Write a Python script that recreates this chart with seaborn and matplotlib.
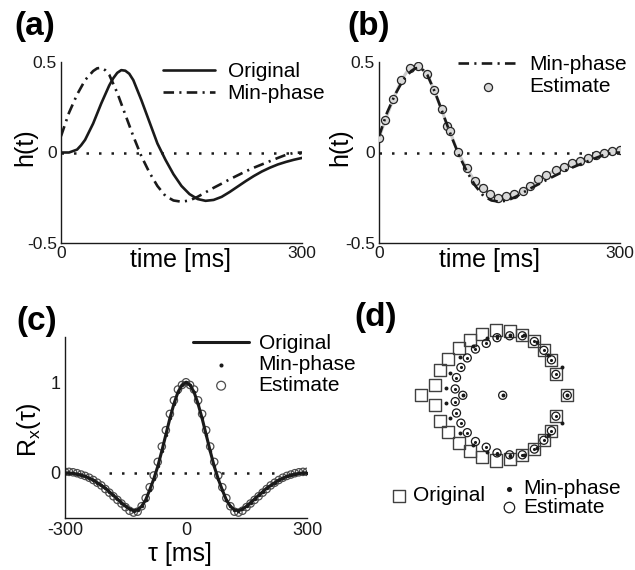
import numpy as np
import pandas as pd
import matplotlib
matplotlib.use("Agg")
import matplotlib.pyplot as plt
import seaborn as sns

# --- data ---
# (a) impulse responses h(t), t in ms
t_orig = [0, 10, 20, 25, 30, 40, 50, 60, 65, 70, 75, 80, 85, 90, 100, 110, 120, 130, 140, 150,
          160, 170, 180, 190, 200, 210, 220, 230, 240, 250, 260, 270, 280, 290, 300]
h_orig = [0, 0, 0.016, 0.04, 0.07, 0.16, 0.27, 0.37, 0.41, 0.44, 0.455, 0.452, 0.435, 0.40, 0.29,
          0.17, 0.05, -0.04, -0.12, -0.185, -0.23, -0.257, -0.267, -0.262, -0.245, -0.218, -0.188,
          -0.158, -0.13, -0.105, -0.084, -0.066, -0.052, -0.04, -0.03]

t_min = [0, 10, 20, 30, 40, 45, 50, 55, 60, 70, 80, 90, 100, 110, 120, 130, 140, 150, 160, 170,
         180, 190, 200, 210, 220, 230, 240, 250, 260, 270, 280, 290, 300]
h_min = [0.09, 0.22, 0.32, 0.40, 0.45, 0.465, 0.468, 0.455, 0.43, 0.33, 0.21, 0.09, -0.02, -0.11,
         -0.185, -0.24, -0.265, -0.272, -0.265, -0.245, -0.22, -0.195, -0.172, -0.148, -0.126,
         -0.104, -0.084, -0.066, -0.048, -0.03, -0.013, -0.002, 0]

# (b) estimated impulse response
t_est = [0, 8, 18, 28, 38, 49, 60, 68, 78, 85, 88, 98, 109, 119, 130, 138, 148, 158, 168, 179,
         188, 198, 208, 220, 230, 240, 250, 260, 270, 280, 290, 300]
h_est = [0.081, 0.182, 0.297, 0.40, 0.468, 0.477, 0.436, 0.348, 0.238, 0.145, 0.12, 0.002, -0.085,
         -0.158, -0.195, -0.232, -0.25, -0.241, -0.232, -0.214, -0.186, -0.149, -0.127, -0.095,
         -0.08, -0.06, -0.045, -0.03, -0.015, 0.0, 0.008, 0.015]

# (c) autocorrelation, one side (lag 0..300 ms), symmetric
lag_half = [0, 10, 20, 30, 40, 50, 60, 70, 80, 90, 100, 110, 120, 130, 140, 150, 160, 170, 180,
            190, 200, 210, 220, 230, 240, 250, 260, 270, 280, 290, 300]
rx_orig_half = [1.0, 0.97, 0.89, 0.76, 0.60, 0.42, 0.24, 0.07, -0.07, -0.19, -0.30, -0.37, -0.41,
                -0.42, -0.40, -0.37, -0.33, -0.29, -0.25, -0.21, -0.17, -0.14, -0.11, -0.08,
                -0.06, -0.04, -0.025, -0.015, -0.007, -0.002, 0.0]
rx_min_half = [1.0, 0.97, 0.89, 0.76, 0.60, 0.42, 0.24, 0.07, -0.07, -0.19, -0.30, -0.37, -0.41,
               -0.42, -0.40, -0.37, -0.33, -0.29, -0.25, -0.21, -0.17, -0.14, -0.11, -0.08,
               -0.06, -0.04, -0.025, -0.015, -0.007, -0.002, 0.0]
rx_est_half = [1.0, 0.97, 0.92, 0.80, 0.65, 0.47, 0.29, 0.12, -0.03, -0.16, -0.28, -0.37, -0.43,
               -0.44, -0.42, -0.38, -0.34, -0.30, -0.26, -0.22, -0.18, -0.14, -0.11, -0.08,
               -0.055, -0.035, -0.02, -0.005, 0.005, 0.01, 0.01]

# (d) zeros in the z-plane (upper half plane + real axis; conjugates mirrored)
orig_re = [1.02, 0.84, 0.77, 0.65, 0.50, 0.31, 0.11, -0.11, -0.32, -0.52, -0.69, -0.86, -0.99, -1.07, -1.29]
orig_im = [0, 0.33, 0.56, 0.71, 0.85, 0.95, 1.01, 1.03, 0.97, 0.88, 0.75, 0.58, 0.40, 0.16, 0]
min_re = [1.02, 0.93, 0.72, 0.54, 0.33, 0.11, -0.09, -0.25, -0.47, -0.68, -0.83, -0.89, -0.63, 0.0]
min_im = [0.0, 0.44, 0.63, 0.84, 0.95, 0.96, 0.93, 0.90, 0.78, 0.60, 0.36, 0.12, 0.0, 0.0]
est_re = [1.02, 0.84, 0.77, 0.65, 0.50, 0.31, 0.11, -0.09, -0.26, -0.43, -0.56, -0.66, -0.73, -0.75, -0.63, 0.0]
est_im = [0, 0.33, 0.56, 0.71, 0.85, 0.94, 0.94, 0.91, 0.82, 0.73, 0.59, 0.44, 0.28, 0.10, 0, 0]


def full_lag(half):
    return list(-np.array(half[:0:-1])) + list(half)


def full_sym(half):
    return list(half[:0:-1]) + list(half)


def mirror(re, im):
    re = np.array(re)
    im = np.array(im)
    cpx = im != 0
    return (np.concatenate([re, re[cpx]]), np.concatenate([im, -im[cpx]]))


lag = full_lag(lag_half)
df_c = pd.DataFrame({"lag": lag, "orig": full_sym(rx_orig_half),
                     "minp": full_sym(rx_min_half), "est": full_sym(rx_est_half)})

sns.set_theme(style="white")
plt.rcParams["font.family"] = ["Liberation Sans", "DejaVu Sans"]
plt.rcParams["axes.unicode_minus"] = False
plt.rcParams["mathtext.fontset"] = "custom"
plt.rcParams["mathtext.rm"] = "Liberation Sans"
for k in ["text.color", "axes.labelcolor", "xtick.color", "ytick.color", "axes.edgecolor"]:
    plt.rcParams[k] = "black"

W, H = 635, 570
fig = plt.figure(figsize=(W / 100, H / 100), dpi=100)


def box(l, t, r, b):
    return [l / W, 1 - b / H, (r - l) / W, (b - t) / H]


ax_a = fig.add_axes(box(61, 62, 302, 243))
ax_b = fig.add_axes(box(379, 62, 620, 243))
ax_c = fig.add_axes(box(65, 337, 307, 518))
ax_d = fig.add_axes(box(401.4, 294, 604, 496.6))

dashdot = (0, (4, 2, 0.8, 2))
zero_ls = (0, (1, 4))
LEG = 15
TICK = 12.5
LAB = 18


def style_axes(ax):
    for s in ["top", "right"]:
        ax.spines[s].set_visible(False)
    for s in ["left", "bottom"]:
        ax.spines[s].set_color("k")
        ax.spines[s].set_linewidth(1.0)
    ax.tick_params(which="both", direction="in", length=4, width=1, colors="k",
                   labelsize=TICK, pad=3)
    ax.grid(False)


# ---------------- (a) ----------------
ax = ax_a
ax.axhline(0, color="k", lw=1.8, ls=zero_ls, zorder=1)
sns.lineplot(x=t_orig, y=h_orig, ax=ax, color="k", lw=1.9, label="Original",
             estimator=None, sort=False, zorder=3)
sns.lineplot(x=t_min, y=h_min, ax=ax, color="k", lw=1.9, linestyle=dashdot,
             label="Min-phase", estimator=None, sort=False, zorder=3)
ax.set_xlim(0, 300)
ax.set_ylim(-0.5, 0.5)
ax.set_xticks([0, 300])
ax.set_yticks([-0.5, 0, 0.5])
ax.set_yticklabels(["-0.5", "0", "0.5"])
ax.set_yticks([-0.25, 0.25], minor=True)
style_axes(ax)
ax.tick_params(axis="x", pad=2)
ax.set_xlabel("time [ms]", fontsize=LAB)
ax.set_ylabel("h(t)", fontsize=LAB)
ax.xaxis.set_label_coords(0.494, -0.025)
ax.yaxis.set_label_coords(-0.1, 0.53)
ax.legend(loc="upper left", bbox_to_anchor=(163 / W, 1 - 62 / H), bbox_transform=fig.transFigure,
          frameon=False, fontsize=LEG, handlelength=2.5, handletextpad=0.6,
          labelspacing=0.15, borderpad=0, borderaxespad=0)

# ---------------- (b) ----------------
ax = ax_b
ax.axhline(0, color="k", lw=1.8, ls=zero_ls, zorder=1)
sns.lineplot(x=t_est, y=h_est, ax=ax, color="0.8", lw=2.2, estimator=None, sort=False, zorder=2)
sns.scatterplot(x=t_est, y=h_est, ax=ax, s=34, marker="o", facecolor="0.85",
                edgecolor="0.15", linewidth=0.9, label="Estimate", zorder=3)
sns.lineplot(x=t_min, y=h_min, ax=ax, color="k", lw=1.9, linestyle=dashdot,
             label="Min-phase", estimator=None, sort=False, zorder=4)
ax.set_xlim(0, 300)
ax.set_ylim(-0.5, 0.5)
ax.set_xticks([0, 300])
ax.set_yticks([-0.5, 0, 0.5])
ax.set_yticklabels(["-0.5", "0", "0.5"])
ax.set_yticks([-0.25, 0.25], minor=True)
style_axes(ax)
ax.tick_params(axis="x", pad=2)
ax.set_xlabel("time [ms]", fontsize=LAB)
ax.set_ylabel("h(t)", fontsize=LAB)
ax.xaxis.set_label_coords(0.46, -0.025)
ax.yaxis.set_label_coords(-0.11, 0.53)
hb, lb = ax.get_legend_handles_labels()
order = [lb.index("Min-phase"), lb.index("Estimate")]
ax.legend([hb[i] for i in order], [lb[i] for i in order], loc="upper left",
          bbox_to_anchor=(458 / W, 1 - 55 / H), bbox_transform=fig.transFigure,
          frameon=False, fontsize=LEG, handlelength=2.9, handletextpad=0.5,
          labelspacing=0.15, borderpad=0, borderaxespad=0)

# ---------------- (c) ----------------
ax = ax_c
ax.hlines(0, -190, 220, colors="k", lw=1.8, linestyles=zero_ls, zorder=1)
sns.scatterplot(data=df_c, x="lag", y="est", ax=ax, s=28, marker="o", facecolor="none",
                edgecolor="0.3", linewidth=0.9, label="Estimate", zorder=2)
sns.lineplot(data=df_c, x="lag", y="orig", ax=ax, color="k", lw=2.2, label="Original",
             estimator=None, sort=False, zorder=3)
sns.scatterplot(data=df_c, x="lag", y="minp", ax=ax, s=6, marker="o", color="k",
                linewidth=0, label="Min-phase", zorder=4)
ax.set_xlim(-300, 300)
ax.set_ylim(-0.5, 1.5)
ax.set_xticks([-300, 0, 300])
ax.set_yticks([0, 1])
ax.set_yticks([-0.5, 0.5, 1.5], minor=True)
style_axes(ax)
ax.tick_params(axis="x", labelsize=13, pad=3)
ax.tick_params(axis="y", labelsize=13)
ax.set_xlabel("τ [ms]", fontsize=LAB)
ax.set_ylabel("R$_\\mathregular{x}$(τ)", fontsize=LAB)
ax.xaxis.set_label_coords(0.475, -0.135)
ax.yaxis.set_label_coords(-0.09, 0.49)
hc, lc = ax.get_legend_handles_labels()
order = [lc.index("Original"), lc.index("Min-phase"), lc.index("Estimate")]
ax.legend([hc[i] for i in order], [lc[i] for i in order], loc="upper left",
          bbox_to_anchor=(193 / W, 1 - 334 / H), bbox_transform=fig.transFigure,
          frameon=False, fontsize=LEG, handlelength=2.7, handletextpad=0.45,
          labelspacing=0.1, borderpad=0, borderaxespad=0, markerscale=1.2)

# ---------------- (d) ----------------
ax = ax_d
ore, oim = mirror(orig_re, orig_im)
mre, mim = mirror(min_re, min_im)
ere, eim = mirror(est_re, est_im)
sns.scatterplot(x=ore, y=oim, ax=ax, s=75, marker="s", facecolor="none",
                edgecolor="0.25", linewidth=1.0, label="Original", zorder=2)
sns.scatterplot(x=ere, y=eim, ax=ax, s=34, marker="o", facecolor="none",
                edgecolor="k", linewidth=0.9, label="Estimate", zorder=3)
sns.scatterplot(x=ere, y=eim, ax=ax, s=5, marker="o", color="k", linewidth=0, zorder=4)
sns.scatterplot(x=mre, y=mim, ax=ax, s=8, marker="o", color="k", linewidth=0,
                label="Min-phase", zorder=4)
ax.set_xlim(-1.6, 1.6)
ax.set_ylim(-1.6, 1.6)
ax.set_aspect("equal")
ax.axis("off")
hd, ld = ax.get_legend_handles_labels()
leg1 = ax.legend([hd[ld.index("Original")]], ["Original"], loc="upper left",
                 bbox_to_anchor=(389 / W, 1 - 486 / H), bbox_transform=fig.transFigure,
                 frameon=False, fontsize=LEG, handlelength=1.0, handletextpad=0.15,
                 borderpad=0, borderaxespad=0)
ax.add_artist(leg1)
ax.legend([hd[ld.index("Min-phase")], hd[ld.index("Estimate")]], ["Min-phase", "Estimate"],
          loc="upper left", bbox_to_anchor=(499 / W, 1 - 479 / H), bbox_transform=fig.transFigure,
          frameon=False, fontsize=LEG, handlelength=1.0, handletextpad=0.15,
          labelspacing=0.0, borderpad=0, borderaxespad=0, markerscale=1.3)

# panel letters
for lbl, x, y in [("(a)", 14, 11), ("(b)", 347, 11), ("(c)", 16, 306), ("(d)", 354, 302)]:
    fig.text(x / W, 1 - y / H, lbl, fontsize=24, fontweight="bold", va="top", ha="left")

fig.savefig("out.png", dpi=100)
